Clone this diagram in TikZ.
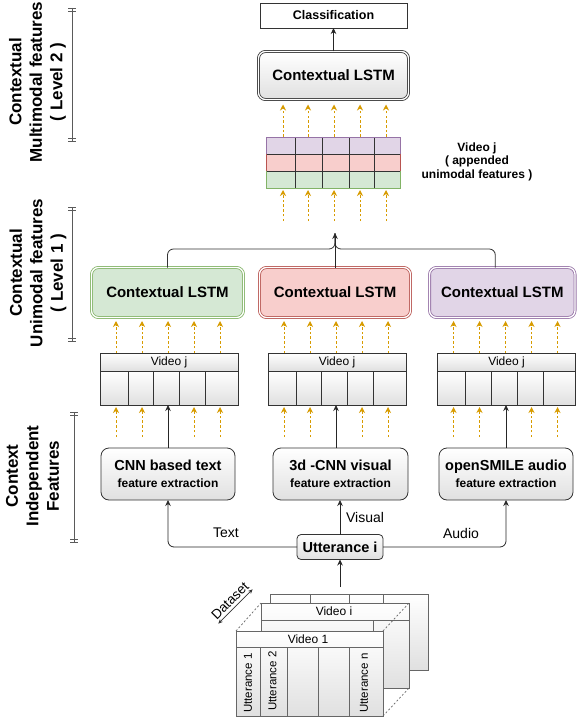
\documentclass[tikz,border=0pt]{standalone}
\usepackage{fontspec}
\setmainfont{Liberation Sans}
\usetikzlibrary{arrows.meta,calc}
\definecolor{ylw}{HTML}{D79B00}
\definecolor{gfill}{HTML}{D5E8D4}
\definecolor{gline}{HTML}{82B366}
\definecolor{rfill}{HTML}{F8CECC}
\definecolor{rline}{HTML}{B85450}
\definecolor{pfill}{HTML}{E1D5E7}
\definecolor{pline}{HTML}{9673A6}
\definecolor{gbot}{HTML}{E0E0E0}
\definecolor{edge}{HTML}{333333}
\definecolor{axisc}{HTML}{5A5A5A}
\definecolor{sheet}{HTML}{666666}
\newcommand\fsz[2]{\fontsize{#1}{#2}\selectfont}
\newcommand\vidtable[2]{%
  \node[minimum width=138pt,minimum height=52pt] (#1) at (#2,379) {};
  \draw[cellbox] (#1.north west) rectangle ($(#1.north east)+(0,18)$);
  \node[font=\fsz{12}{14}] (#1h) at ($(#1.north)+(0,9)$) {Video j};
  \foreach \a/\b in {0/28,28/53.5,53.5/79.5,79.5/105.5,105.5/138}
    {\draw[cellbox] ($(#1.north west)+(\a,18)$) rectangle ($(#1.north west)+(\b,52)$);}
}
\newcommand\axbar[3]{%
  \draw[axisbar] (#1,#2) -- (#1,#3);
  \draw[axisbar] (#1-4,#2+0.5) -- (#1+4,#2+0.5);
  \draw[axisbar] (#1-4,#2+3.5) -- (#1+4,#2+3.5);
  \draw[axisbar] (#1-4,#3-0.5) -- (#1+4,#3-0.5);
  \draw[axisbar] (#1-4,#3-3.5) -- (#1+4,#3-3.5);
}
\begin{document}
\begin{tikzpicture}[x=1pt,y=-1pt,
  every node/.style={inner sep=0pt,outer sep=0pt},
  grad/.style={top color=white,bottom color=gbot},
  cellbox/.style={draw=edge,line width=0.7pt,grad},
  lstm/.style={draw=#1,line width=0.8pt,double=white,double distance=1.3pt,rounded corners=7pt,font=\fsz{15}{18}\bfseries},
  fbox/.style={draw=edge,line width=0.8pt,grad,rounded corners=8pt,align=center,minimum height=52pt,font=\fsz{12}{16.5}\bfseries},
  ya/.style={draw=ylw,line width=0.9pt,dash pattern=on 2.5pt off 2.2pt,-{Stealth[length=6pt,width=6pt]}},
  ba/.style={draw=black!85,line width=0.8pt,-{Stealth[length=6pt,width=5.5pt]}},
  conn/.style={draw=black!80,line width=0.8pt,rounded corners=6pt},
  axislbl/.style={rotate=90,align=center,font=\fsz{17}{20.5}\bfseries},
  axisbar/.style={draw=axisc,line width=0.9pt},
  lbl/.style={font=\fsz{14}{16}},
  sheetbox/.style={draw=sheet,line width=0.7pt,grad},
  sheetline/.style={draw=sheet,line width=0.7pt},
]
\useasboundingbox (0,0) rectangle (577,722);

% axis labels
\node[axislbl] (lv2) at (37.5,82) {Contextual\\Multimodal features\\( Level 2 )};
\axbar{72}{8}{142}
\node[axislbl] (lv1) at (38,273) {Contextual\\Unimodal features\\( Level 1 )};
\axbar{72}{207}{342}
\node[axislbl] (ci) at (32.5,476) {Context\\Independent\\Features};
\axbar{74}{412}{543}

% top
\node[draw=edge,line width=0.8pt,fill=white,minimum width=147pt,minimum height=25pt,font=\fsz{12.5}{15}\bfseries] (cls) at (333.5,15.5) {Classification};
\node[lstm=edge,grad,minimum width=150pt,minimum height=48pt] (lstmT) at (333.5,75.5) {Contextual LSTM};
\draw[ba] (lstmT.north) -- (cls.south);

% appended grid
\node[minimum width=134pt,minimum height=51pt] (grid) at (333,162.5) {};
\fill[pfill] (266,137) rectangle (400,154);
\fill[rfill] (266,154) rectangle (400,171);
\fill[gfill] (266,171) rectangle (400,188);
\foreach \x in {295,322,349,374} \draw[black!80,line width=0.7pt] (\x,137) -- (\x,188);
\draw[black!80,line width=0.7pt] (266,154) -- (400,154) (266,171) -- (400,171);
\draw[pline,line width=0.8pt] (266,154) -- (266,137) -- (400,137) -- (400,154);
\draw[rline,line width=0.8pt] (266,154) -- (266,171) (400,154) -- (400,171);
\draw[gline,line width=0.8pt] (266,171) -- (266,188) -- (400,188) -- (400,171);
\node[font=\fsz{12}{13.5}\bfseries,align=center] (gridlbl) at (477,161.5) {Video j\\( appended\\unimodal features )};
\foreach \d in {-50,-25,1,27,53} {
  \draw[ya] ($(grid.north)+(\d,0)$) -- ($(grid.north)+(\d,-32.5)$);
  \draw[ya] ($(grid.south)+(\d,33)$) -- ($(grid.south)+(\d,2)$);
}

% unimodal LSTMs
\node[lstm=gline,fill=gfill,minimum width=152pt,minimum height=50pt] (lstmG) at (167.5,292.5) {Contextual LSTM};
\node[lstm=rline,fill=rfill,minimum width=151pt,minimum height=50pt] (lstmR) at (335,292.5) {Contextual LSTM};
\node[lstm=pline,fill=pfill,minimum width=145.5pt,minimum height=50pt] (lstmP) at (502.3,292.5) {Contextual LSTM};
\coordinate (merge) at (335,233);
\coordinate (pTop) at ($(lstmP.north)+(-7,0)$);
\draw[conn] (lstmG.north) |- ($(merge)+(0,16)$) -- (merge);
\draw[conn] (pTop) |- ($(merge)+(0,16)$) -- (merge);
\draw[ba] (lstmR.north) -- (merge);

% video j tables
\vidtable{tL}{169}
\vidtable{tM}{337}
\vidtable{tR}{506.5}
\foreach \t in {tL,tM,tR}{
  \foreach \d in {-53,-27,-1,25,51} \draw[ya] ($(\t.north)+(\d,0)$) -- ($(\t.north)+(\d,-32)$);
  \foreach \d in {-53,-27,25,51} \draw[ya] ($(\t.south)+(\d,32)$) -- ($(\t.south)+(\d,2)$);
}

% feature extraction
\node[fbox,minimum width=134pt] (fL) at (168,474) {{\fsz{14.5}{16.5}CNN based text}\\feature extraction};
\node[fbox,minimum width=135pt] (fM) at (340.5,474) {{\fsz{14.5}{16.5}3d -CNN visual}\\feature extraction};
\node[fbox,minimum width=134pt] (fR) at (506,474) {{\fsz{14.5}{16.5}openSMILE audio}\\feature extraction};
\draw[ba] (fL.north) -- (fL.north |- tL.south);
\coordinate (mx) at ($(tM.south)+(-1,0)$);
\draw[ba] (mx |- fM.north) -- (mx);
\draw[ba] (fR.north) -- (fR.north |- tR.south);

% utterance
\node[draw=edge,line width=0.8pt,grad,rounded corners=4pt,minimum width=86pt,minimum height=25pt,font=\fsz{14.5}{17}\bfseries] (utt) at (340,547) {Utterance i};
\draw[ba,rounded corners=6pt] (utt.west) -| (fL.south);
\draw[ba] (utt.north) -- (utt.north |- fM.south);
\draw[ba,rounded corners=6pt] (utt.east) -| (fR.south);
\node[lbl] (ltext) at (226,533) {Text};
\node[lbl] (lvis) at (365,517) {Visual};
\node[lbl] (laud) at (461,533) {Audio};

% dataset
\node[sheetbox,minimum width=158pt,minimum height=76pt] (dsB) at (349,632) {};
\foreach \x in {310,349,383} \draw[sheetline] (\x,594) -- (\x,670);
\node[sheetbox,minimum width=148pt,minimum height=85pt] (dsM) at (335,645.5) {};
\draw[sheetline] (261,620) -- (409,620) (373,620) -- (373,688);
\node[font=\fsz{12}{14}] (dsMh) at (334,611.5) {Video i};
\node[sheetbox,minimum width=147pt,minimum height=85pt] (dsF) at (309.5,673.5) {};
\draw[sheetline] (236,647) -- (383,647);
\foreach \x in {260,287,318,349} \draw[sheetline] (\x,647) -- (\x,716);
\node[font=\fsz{12}{14}] (dsFh) at (308,639) {Video 1};
\node[rotate=90,font=\fsz{11.5}{14}] (u1) at (248,683) {Utterance 1};
\node[rotate=90,font=\fsz{11.5}{14}] (u2) at (272.5,681) {Utterance 2};
\node[rotate=90,font=\fsz{11.5}{14}] (un) at (364,683) {Utterance n};
\draw[sheetline,dash pattern=on 2pt off 2pt] (dsF.north west) -- (dsM.north west) (dsF.north east) -- (dsM.north east) (dsF.south east) -- (dsM.south east);
\node[rotate=45,font=\fsz{13.5}{15},inner xsep=1pt,inner ysep=3pt] (dsl) at (230,601) {Dataset};
\draw[black!80,line width=0.7pt,{Stealth[length=4.5pt,width=4pt]}-{Stealth[length=4.5pt,width=4pt]}] (dsl.south west) -- (dsl.south east);
\coordinate (dsTop) at (340,587);
\draw[ba] (dsTop) -- (utt.south);
\end{tikzpicture}
\end{document}
